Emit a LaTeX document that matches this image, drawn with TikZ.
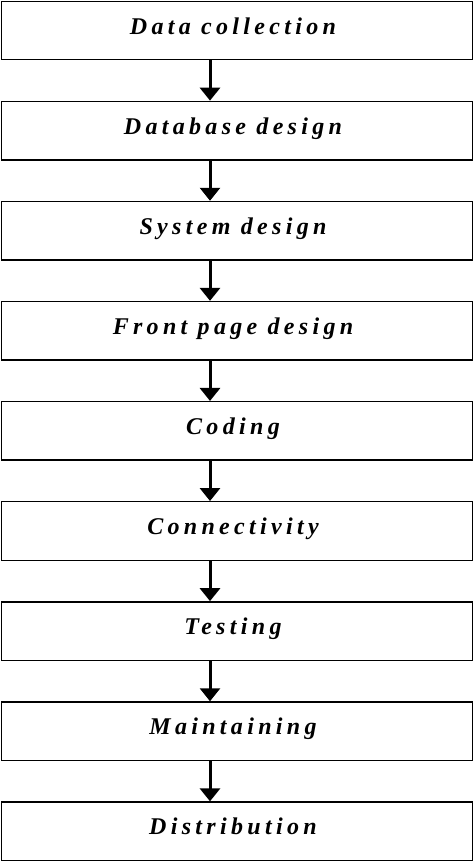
\documentclass[tikz,border=0pt]{standalone}
\usepackage{fontspec}
\setmainfont{Liberation Serif}
\newfontfamily\stagefont[LetterSpace=18]{Liberation Serif}
\usetikzlibrary{positioning,arrows.meta}

\tikzset{
  stage/.style={draw,line width=1.4pt,minimum width=471pt,minimum height=58.5pt,
    inner sep=0pt,text height=17pt,text depth=10pt,
    execute at begin node={\hspace*{-8pt}},
    font=\stagefont\fontsize{24}{28}\selectfont\bfseries\itshape},
  flow/.style={line width=3pt,-{Triangle[length=13pt,width=20pt]}}
}

\begin{document}
\begin{tikzpicture}
	\useasboundingbox (0,0) rectangle (474pt,-862pt);
	\node[stage] (collect) at (237pt,-30.5pt) {Data collection};
	\node[stage,below=40.2pt of collect] (dbdesign) {Database design};
	\node[stage,below=40.2pt of dbdesign] (sysdesign) {System design};
	\node[stage,below=40.2pt of sysdesign] (front) {Front page design};
	\node[stage,below=40.2pt of front] (coding) {Coding};
	\node[stage,below=40.2pt of coding] (connect) {Connectivity};
	\node[stage,below=40.2pt of connect] (testing) {Testing};
	\node[stage,below=40.2pt of testing] (maintain) {Maintaining};
	\node[stage,below=40.2pt of maintain] (distrib) {Distribution};

	\foreach \a/\b in {collect/dbdesign,dbdesign/sysdesign,sysdesign/front,front/coding,
	    coding/connect,connect/testing,testing/maintain,maintain/distrib}
		\draw[flow] ([xshift=-27pt]\a.south) -- ([xshift=-27pt]\b.north);
\end{tikzpicture}
\end{document}
